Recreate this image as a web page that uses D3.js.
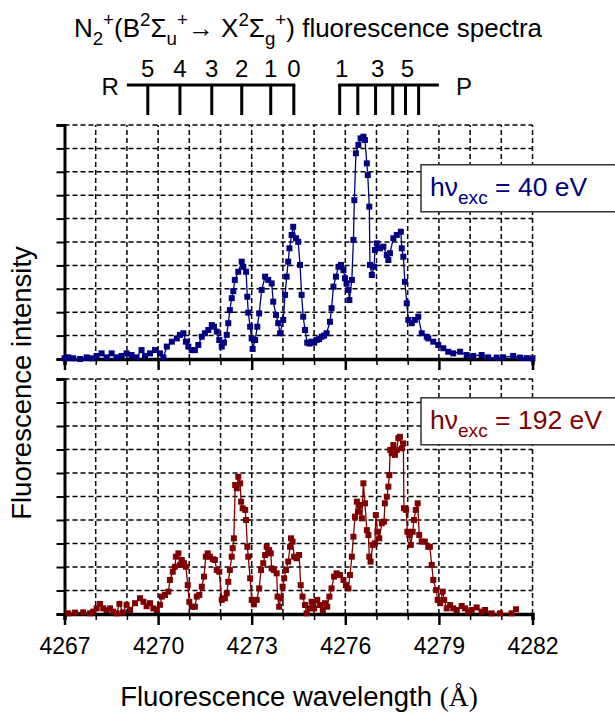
<!DOCTYPE html>
<html>
<head>
<meta charset="utf-8">
<script src="https://cdn.jsdelivr.net/npm/d3@7"></script>
<style>
  html, body { margin: 0; padding: 0; background: #fff; }
  svg text { font-family: "Liberation Sans", Arial, Helvetica, sans-serif; }
</style>
</head>
<body>
<svg id="chart"></svg>
<script>
// spectra: [wavelength (Å), intensity in grid units]
const spec40 = [
  [4267.00,0.03],[4267.12,0.07],[4267.28,0.03],[4267.50,0.00],[4267.71,0.07],[4267.87,0.03],[4268.03,0.13],[4268.19,0.24],
  [4268.35,0.07],[4268.51,0.24],[4268.67,0.07],[4268.83,0.13],[4268.99,0.24],[4269.15,0.17],[4269.31,0.07],[4269.47,0.38],
  [4269.58,0.13],[4269.74,0.24],[4269.90,0.38],[4270.06,0.24],[4270.17,0.07],[4270.28,0.53],[4270.44,0.74],[4270.60,0.88],
  [4270.70,1.03],[4270.81,1.10],[4270.89,0.74],[4270.97,0.53],[4271.08,0.38],[4271.18,0.38],[4271.29,0.60],[4271.40,0.95],
  [4271.50,1.10],[4271.61,1.24],[4271.72,1.45],[4271.79,1.38],[4271.88,1.17],[4271.96,0.81],[4272.04,0.53],[4272.11,0.70],
  [4272.20,1.03],[4272.25,1.53],[4272.30,2.09],[4272.36,2.60],[4272.41,2.90],[4272.46,3.38],[4272.57,3.73],[4272.68,4.16],
  [4272.73,3.94],[4272.82,3.73],[4272.86,2.66],[4272.89,1.98],[4272.95,1.38],[4273.00,0.88],[4273.03,0.43],[4273.11,0.81],
  [4273.18,1.38],[4273.24,1.95],[4273.32,2.95],[4273.43,3.52],[4273.53,3.38],[4273.64,3.23],[4273.69,2.45],[4273.78,1.88],
  [4273.85,1.53],[4273.91,1.10],[4274.01,1.67],[4274.07,2.74],[4274.12,3.52],[4274.17,4.16],[4274.21,4.73],[4274.28,5.30],
  [4274.33,5.65],[4274.42,5.16],[4274.49,5.01],[4274.55,4.02],[4274.60,2.74],[4274.65,1.81],[4274.71,1.24],[4274.78,0.70],
  [4274.85,0.66],[4274.92,0.74],[4275.00,0.70],[4275.08,0.81],[4275.16,0.85],[4275.24,0.95],[4275.32,1.00],[4275.40,1.10],
  [4275.51,1.59],[4275.56,2.17],[4275.62,3.09],[4275.70,3.52],[4275.78,3.94],[4275.86,4.02],[4275.94,3.80],[4275.99,3.45],
  [4276.04,3.23],[4276.10,2.95],[4276.13,2.52],[4276.21,3.38],[4276.26,5.09],[4276.29,6.79],[4276.34,8.79],[4276.42,9.15],
  [4276.49,9.43],[4276.58,9.50],[4276.63,9.36],[4276.69,8.36],[4276.72,7.86],[4276.77,6.51],[4276.79,4.02],[4276.85,3.59],
  [4276.92,3.94],[4276.95,4.66],[4277.01,4.94],[4277.11,4.73],[4277.22,4.80],[4277.33,4.44],[4277.38,4.23],[4277.43,4.52],
  [4277.54,5.16],[4277.65,5.30],[4277.78,5.44],[4277.81,4.73],[4277.86,4.37],[4277.91,3.30],[4277.97,2.38],[4278.02,1.67],
  [4278.13,1.53],[4278.23,1.67],[4278.34,1.81],[4278.45,1.10],[4278.61,0.95],[4278.66,0.88],[4278.82,0.74],[4278.98,0.60],
  [4279.14,0.46],[4279.30,0.31],[4279.46,0.24],[4279.68,0.31],[4279.89,0.17],[4280.10,0.13],[4280.37,0.17],[4280.58,0.07],
  [4280.85,0.06],[4281.06,0.07],[4281.38,0.13],[4281.60,0.06],[4281.81,0.04],[4282.00,0.03]
];

const spec192 = [
  [4267.12,0.03],[4267.34,0.06],[4267.60,0.07],[4267.82,0.03],[4267.92,0.10],[4268.03,0.24],[4268.14,0.43],[4268.24,0.24],
  [4268.35,0.17],[4268.46,0.24],[4268.56,0.10],[4268.67,0.03],[4268.76,0.43],[4268.87,0.06],[4268.99,0.39],[4269.10,0.17],
  [4269.26,0.46],[4269.42,0.67],[4269.53,0.52],[4269.63,0.33],[4269.74,0.46],[4269.85,0.24],[4269.96,0.17],[4270.06,0.39],
  [4270.12,0.74],[4270.22,0.81],[4270.33,0.95],[4270.38,1.45],[4270.47,1.80],[4270.54,2.01],[4270.57,2.44],[4270.65,2.58],
  [4270.70,2.09],[4270.76,2.30],[4270.83,2.16],[4270.89,2.01],[4270.95,1.23],[4271.00,0.52],[4271.08,0.31],[4271.18,0.31],
  [4271.24,0.74],[4271.32,0.81],[4271.40,1.16],[4271.47,1.59],[4271.53,2.44],[4271.59,2.58],[4271.66,2.44],[4271.75,2.33],
  [4271.82,2.30],[4271.88,1.87],[4271.96,1.80],[4272.04,0.60],[4272.14,0.67],[4272.20,0.88],[4272.25,1.37],[4272.30,1.87],
  [4272.36,2.44],[4272.39,2.80],[4272.43,3.22],[4272.47,5.49],[4272.52,5.35],[4272.57,5.84],[4272.63,5.56],[4272.66,4.78],
  [4272.71,4.50],[4272.79,4.43],[4272.82,4.00],[4272.86,2.86],[4272.89,2.44],[4272.95,1.52],[4273.00,0.60],[4273.07,0.41],
  [4273.16,0.60],[4273.24,1.09],[4273.30,1.87],[4273.37,2.16],[4273.43,2.51],[4273.48,2.86],[4273.56,2.72],[4273.61,2.58],
  [4273.64,1.94],[4273.71,1.87],[4273.80,1.73],[4273.83,0.74],[4273.88,0.31],[4273.93,0.67],[4273.99,1.16],[4274.04,1.52],
  [4274.10,1.87],[4274.17,2.23],[4274.23,2.86],[4274.26,3.22],[4274.31,3.08],[4274.36,2.44],[4274.44,2.37],[4274.52,2.51],
  [4274.57,1.23],[4274.63,0.74],[4274.71,0.38],[4274.76,0.03],[4274.85,0.24],[4274.92,0.52],[4275.00,0.24],[4275.10,0.60],
  [4275.19,0.38],[4275.28,0.17],[4275.35,0.46],[4275.42,0.31],[4275.49,0.74],[4275.56,1.09],[4275.64,1.59],[4275.72,1.73],
  [4275.83,1.66],[4275.94,1.45],[4276.02,1.23],[4276.10,1.09],[4276.15,1.66],[4276.21,2.44],[4276.26,3.29],[4276.31,4.14],
  [4276.37,4.78],[4276.42,4.35],[4276.47,4.64],[4276.53,4.07],[4276.58,5.56],[4276.63,4.71],[4276.69,3.57],[4276.74,3.36],
  [4276.77,2.44],[4276.81,2.23],[4276.88,2.94],[4276.95,3.01],[4276.98,4.21],[4277.03,3.50],[4277.09,3.22],[4277.17,3.86],
  [4277.24,3.93],[4277.27,4.71],[4277.33,4.99],[4277.38,5.42],[4277.41,5.91],[4277.44,6.98],[4277.49,6.84],[4277.54,7.19],
  [4277.59,6.77],[4277.65,6.98],[4277.70,7.48],[4277.75,7.54],[4277.81,7.05],[4277.86,7.26],[4277.88,4.50],[4277.95,4.43],
  [4277.99,3.50],[4278.05,3.36],[4278.10,2.94],[4278.16,3.50],[4278.20,4.00],[4278.26,4.43],[4278.32,4.71],[4278.37,3.36],
  [4278.45,3.08],[4278.55,3.08],[4278.66,2.86],[4278.71,2.86],[4278.77,2.09],[4278.82,1.45],[4278.91,1.02],[4278.96,0.60],
  [4279.04,0.46],[4279.12,0.95],[4279.17,0.60],[4279.25,0.24],[4279.36,0.38],[4279.46,0.24],[4279.57,0.17],[4279.73,0.34],
  [4279.84,0.24],[4279.94,0.10],[4280.05,0.17],[4280.21,0.28],[4280.37,0.10],[4280.48,0.17],[4280.69,0.03],[4280.96,0.03],
  [4281.33,0.03],[4281.47,0.20]
];

// rotational line positions (Å)
const rLines  = [4269.67, 4270.70, 4271.72, 4272.68, 4273.61, 4274.35];
const rLabels = ["5", "4", "3", "2", "1", "0"];
const pLines  = [4275.82, 4276.40, 4276.97, 4277.52, 4277.93, 4278.35];
const pLabels = ["1", "", "3", "", "5", ""];
const rBarStart = 4269.0;
const pBarEnd = 4279.0;

const xTicks = d3.range(4267, 4283, 1);
const xTickLabels = [4267, 4270, 4273, 4276, 4279, 4282];

const W = 615, H = 713;
const svg = d3.select('#chart').attr('width', W).attr('height', H);

const x = d3.scaleLinear().domain([4267, 4282]).range([64.5, 532.5]);
const yTop = d3.scaleLinear().domain([0, 10]).range([359, 125]);
const yBot = d3.scaleLinear().domain([0, 10]).range([614, 379]);

// rich text helper: parts of {t, s:'sub'|'sup'}
function rich(sel, parts, size) {
  let off = 0;
  parts.forEach(p => {
    let target = 0;
    if (p.s === 'sub') target = 0.32 * size;
    if (p.s === 'sup') target = -0.42 * size;
    sel.append('tspan')
      .attr('dy', target - off)
      .style('font-size', (p.s ? size * 0.72 : size) + 'px')
      .text(p.t);
    off = target;
  });
}

// title
const title = svg.append('text')
  .attr('x', 308).attr('y', 37)
  .attr('text-anchor', 'middle')
  .style('font-size', '26px');
rich(title, [
  {t: 'N'}, {t: '2', s: 'sub'}, {t: '+', s: 'sup'}, {t: '(B'}, {t: '2', s: 'sup'}, {t: 'Σ'},
  {t: 'u', s: 'sub'}, {t: '+', s: 'sup'}, {t: '→ X'}, {t: '2', s: 'sup'}, {t: 'Σ'},
  {t: 'g', s: 'sub'}, {t: '+', s: 'sup'}, {t: ') fluorescence spectra'}
], 26);

// rotational branch markers
const barY = 85, stickY = 115;
const mk = svg.append('g').attr('stroke', '#000').attr('stroke-width', 3);
mk.append('line').attr('x1', x(rBarStart)).attr('x2', x(rLines[rLines.length - 1]) + 1.5)
  .attr('y1', barY).attr('y2', barY);
mk.append('line').attr('x1', x(pLines[0]) - 1.5).attr('x2', x(pBarEnd))
  .attr('y1', barY).attr('y2', barY);
mk.selectAll('.stick').data(rLines.concat(pLines)).join('line')
  .attr('x1', d => x(d)).attr('x2', d => x(d))
  .attr('y1', barY).attr('y2', stickY);

svg.selectAll('.rlab').data(rLines).join('text')
  .attr('x', d => x(d)).attr('y', 77)
  .attr('text-anchor', 'middle').style('font-size', '24px')
  .text((d, i) => rLabels[i]);
svg.selectAll('.plab').data(pLines).join('text')
  .attr('x', d => x(d) + 2).attr('y', 77)
  .attr('text-anchor', 'middle').style('font-size', '24px')
  .text((d, i) => pLabels[i]);
svg.append('text').attr('x', x(rBarStart) - 8).attr('y', 95)
  .attr('text-anchor', 'end').style('font-size', '24px').text('R');
svg.append('text').attr('x', x(pBarEnd) + 17).attr('y', 95)
  .style('font-size', '24px').text('P');

// panels
const panels = [
  {data: spec40, y: yTop, color: '#000080', label: '40 eV'},
  {data: spec192, y: yBot, color: '#800000', label: '192 eV'}
];

panels.forEach((p, pi) => {
  const g = svg.append('g');
  const y = p.y;

  // grid
  g.append('g').selectAll('line').data(d3.range(1, 11)).join('line')
    .attr('x1', x(4267)).attr('x2', x(4282))
    .attr('y1', d => y(d)).attr('y2', d => y(d))
    .attr('stroke', '#000').attr('stroke-width', 1.5).attr('stroke-dasharray', '5,3');
  g.append('g').selectAll('line').data(xTicks.slice(1)).join('line')
    .attr('x1', d => x(d)).attr('x2', d => x(d))
    .attr('y1', y(0)).attr('y2', y(10))
    .attr('stroke', '#000').attr('stroke-width', 1.5).attr('stroke-dasharray', '5,3');

  // axes
  const yAxis = d3.axisLeft(y).tickValues(d3.range(0, 11)).tickSize(8).tickFormat('');
  g.append('g').attr('transform', `translate(${x(4267)},0)`).call(yAxis)
    .call(a => a.select('.domain').attr('stroke-width', 3))
    .call(a => a.selectAll('.tick line').attr('stroke-width', 2));

  const xAxis = d3.axisBottom(x).tickValues(xTicks)
    .tickSize(6).tickFormat(d => (pi === 1 && xTickLabels.includes(d)) ? d : '');
  g.append('g').attr('transform', `translate(0,${y(0)})`).call(xAxis)
    .call(a => a.select('.domain').attr('stroke-width', 3.5))
    .call(a => a.selectAll('.tick line')
      .attr('stroke-width', d => xTickLabels.includes(d) ? 2.5 : 1.5)
      .attr('y2', d => xTickLabels.includes(d) ? 11 : 6))
    .call(a => a.selectAll('.tick text')
      .attr('y', 24).style('font-size', '23px')
      .style('font-family', '"Liberation Sans", Arial, sans-serif'));

  // spectrum
  const line = d3.line().x(d => x(d[0])).y(d => y(d[1]));
  g.append('path').datum(p.data)
    .attr('d', line).attr('fill', 'none')
    .attr('stroke', p.color).attr('stroke-width', 1.3);
  g.selectAll('rect.pt').data(p.data).join('rect')
    .attr('class', 'pt')
    .attr('x', d => x(d[0]) - 3).attr('y', d => y(d[1]) - 3)
    .attr('width', 6).attr('height', 6)
    .attr('fill', p.color);

  // label box
  const by = pi === 0 ? yTop(8.3) : yBot(9.2);
  g.append('rect')
    .attr('x', 421).attr('y', by).attr('width', 210).attr('height', 47)
    .attr('fill', '#fff').attr('stroke', '#333').attr('stroke-width', 1.5);
  const lt = g.append('text').attr('x', 430).attr('y', by + 31)
    .attr('fill', p.color).style('font-size', '26.5px');
  rich(lt, [{t: 'hν'}, {t: 'exc', s: 'sub'}, {t: ' = ' + p.label}], 26.5);
});

// axis titles
const xt = svg.append('text').attr('x', 299).attr('y', 706)
  .attr('text-anchor', 'middle').style('font-size', '27.5px');
xt.append('tspan').text('Fluorescence wavelength ');
xt.append('tspan').style('font-family', '"Liberation Serif", "Times New Roman", serif').text('(Å)');

svg.append('text')
  .attr('transform', 'translate(31,383) rotate(-90)')
  .attr('text-anchor', 'middle').style('font-size', '27.5px')
  .text('Fluorescence intensity');
</script>
</body>
</html>
